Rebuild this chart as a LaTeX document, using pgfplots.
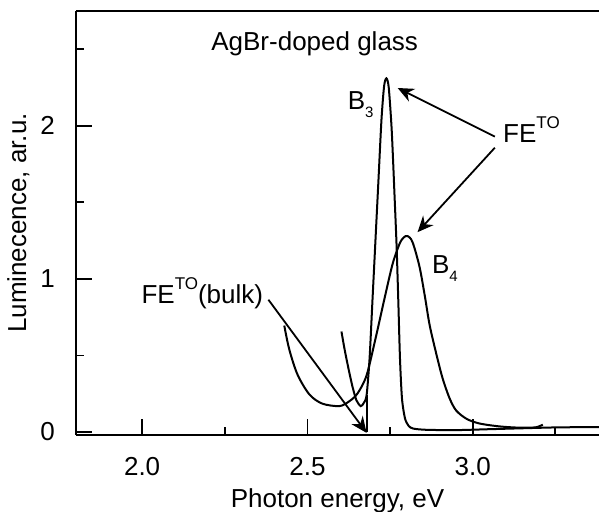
\documentclass[border=0pt]{standalone}
\usepackage{fontspec}
\setmainfont{Liberation Sans}
\usepackage{pgfplots}
\pgfplotsset{compat=1.18}
\usetikzlibrary{arrows.meta}

% sharp band (B3)
\pgfplotstableread{
x y
2.603 0.656
2.612 0.545
2.624 0.416
2.636 0.299
2.648 0.208
2.661 0.169
2.670 0.188
2.679 0.240
2.688 0.480
2.697 0.870
2.706 1.260
2.715 1.650
2.724 2.040
2.732 2.260
2.739 2.310
2.746 2.250
2.755 1.970
2.764 1.520
2.770 1.200
2.775 0.850
2.780 0.480
2.786 0.220
2.795 0.090
2.806 0.040
2.820 0.022
2.860 0.014
2.950 0.012
3.050 0.018
3.150 0.024
3.260 0.030
3.400 0.032
}\bthree

% dropout of the B3 trace
\pgfplotstableread{
x y
2.679 0.000
2.679 0.240
}\bspike

% broad band (B4)
\pgfplotstableread{
x y
2.430 0.695
2.445 0.540
2.470 0.375
2.506 0.245
2.545 0.185
2.597 0.169
2.627 0.201
2.652 0.253
2.679 0.370
2.706 0.610
2.733 0.870
2.758 1.100
2.779 1.230
2.791 1.270
2.803 1.280
2.818 1.240
2.839 1.080
2.855 0.890
2.870 0.695
2.891 0.500
2.909 0.350
2.930 0.220
2.950 0.140
2.982 0.085
3.021 0.055
3.082 0.036
3.142 0.028
3.190 0.030
3.212 0.048
}\bfour

\begin{document}
\fontsize{13}{15.5}\selectfont
\begin{tikzpicture}
\begin{axis}[
  name=ax,
  scale only axis,
  width=261.5pt, height=212pt,
  xmin=1.8, xmax=3.382,
  ymin=-0.02, ymax=2.75,
  axis x line*=box,
  axis y line*=left,
  y axis line style={-},
  xtick pos=left,
  xtick={2.0,2.5,3.0},
  xticklabels={2.0,2.5,3.0},
  ytick={0,1,2},
  minor xtick={2.25,2.75,3.25},
  minor ytick={0.5,1.5,2.5},
  tick align=inside,
  major tick length=8pt,
  minor tick length=4pt,
  every tick/.style={black, line width=0.9pt},
  axis line style={line width=1pt},
  /pgf/number format/assume math mode=true,
  xticklabel style={yshift=-6.8pt},
  yticklabel style={xshift=-6pt},
  xlabel={Photon energy, eV},
  ylabel={Luminecence, ar.u.},
  xlabel style={at={(axis description cs:0.5,0)}, anchor=north, yshift=-22.3pt},
  ylabel style={at={(axis description cs:-0.11,0.5)}, anchor=center},
  clip=true,
]
\addplot[black, line width=1pt, smooth, tension=0.45] table {\bthree};
\addplot[black, line width=1pt] table {\bspike};
\addplot[black, line width=1pt, smooth, tension=0.5] table {\bfour};

\node[anchor=base west] at (axis cs:2.182,2.494) {AgBr-doped glass};
\node[anchor=base west, inner sep=0pt] at (axis cs:2.621,2.104)
  {B\raisebox{-4pt}{\fontsize{7.5}{8}\selectfont 3}};
\node[anchor=base west, inner sep=0pt] at (axis cs:2.876,1.032)
  {B\raisebox{-4pt}{\fontsize{7.5}{8}\selectfont 4}};
\node[anchor=base west, inner sep=0pt] at (axis cs:3.091,1.89)
  {FE\raisebox{7pt}{\fontsize{8.5}{9}\selectfont TO}};
\node[anchor=base west, inner sep=0pt] at (axis cs:1.997,0.838)
  {FE\raisebox{7pt}{\fontsize{8.5}{9}\selectfont TO}(bulk)};

\draw[line width=0.9pt, -{Stealth[length=8pt,width=7pt]}]
  (axis cs:3.067,1.929) -- (axis cs:2.773,2.247);
\draw[line width=0.9pt, -{Stealth[length=8pt,width=7pt]}]
  (axis cs:3.067,1.857) -- (axis cs:2.833,1.305);
\draw[line width=0.9pt, -{Stealth[length=8pt,width=7pt]}]
  (axis cs:2.382,0.864) -- (axis cs:2.679,-0.006);
\end{axis}
\pgfresetboundingbox
\path[use as bounding box] ([shift={(-38pt,-38pt)}]ax.south west)
  rectangle ([shift={(0pt,5.5pt)}]ax.north east);
\end{tikzpicture}
\end{document}
